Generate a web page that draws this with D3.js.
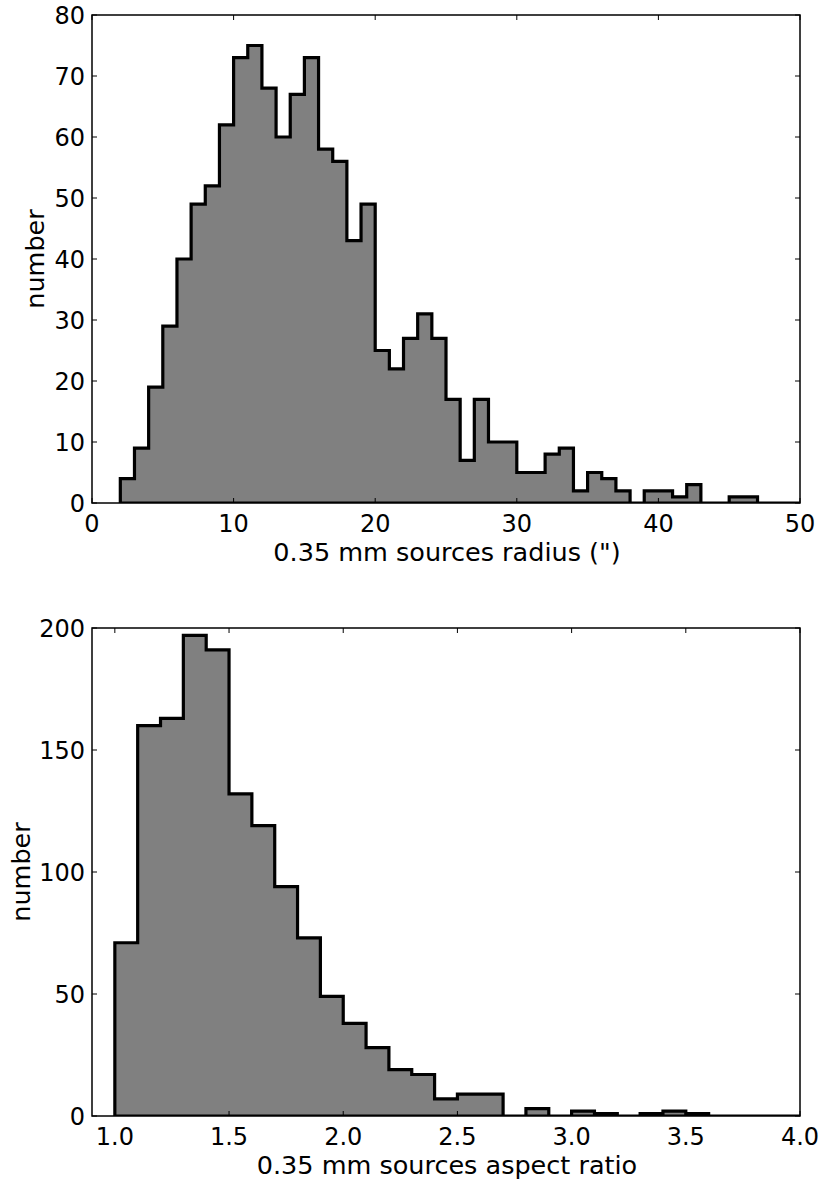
<!DOCTYPE html>
<html>
<head>
<meta charset="utf-8">
<script src="https://cdn.jsdelivr.net/npm/d3@7"></script>
<style>
  body { margin: 0; background: #fff; }
  text { font-family: "DejaVu Sans", sans-serif; fill: #000; }
</style>
</head>
<body>
<div id="chart"></div>
<script>
// histogram 1: source radius, bins of 1" starting at 2"
const radiusStart = 2, radiusWidth = 1;
const radiusCounts = [4, 9, 19, 29, 40, 49, 52, 62, 73, 75, 68, 60, 67, 73, 58, 56, 43, 49,
    25, 22, 27, 31, 27, 17, 7, 17, 10, 10, 5, 5, 8, 9, 2, 5, 4, 2, 0, 2, 2, 1, 3, 0, 0, 1, 1, 0, 0, 0];
const radiusXTicks = [0, 10, 20, 30, 40, 50];
const radiusYTicks = [0, 10, 20, 30, 40, 50, 60, 70, 80];

// histogram 2: aspect ratio, bins of 0.1 starting at 1.0
const ratioStart = 1.0, ratioWidth = 0.1;
const ratioCounts = [71, 160, 163, 197, 191, 132, 119, 94, 73, 49, 38, 28, 19, 17, 7, 9, 9, 0, 3, 0,
    2, 1, 0, 1, 2, 1, 0, 0, 0, 0];
const ratioXTicks = [1.0, 1.5, 2.0, 2.5, 3.0, 3.5, 4.0];
const ratioYTicks = [0, 50, 100, 150, 200];

const W = 823, H = 1181;
const svg = d3.select("#chart")
    .append("svg")
    .attr("width", W)
    .attr("height", H);

function drawHist(opts) {
    const x = d3.scaleLinear().domain(opts.xDomain).range([92, 800]);
    const y = d3.scaleLinear().domain(opts.yDomain).range([opts.bottom, opts.top]);
    const g = svg.append("g");

    g.append("defs").append("clipPath").attr("id", opts.id)
        .append("rect")
        .attr("x", 92).attr("y", opts.top)
        .attr("width", 708).attr("height", opts.bottom - opts.top);

    // step outline points
    const pts = [[opts.start, 0]];
    opts.counts.forEach(function (c, i) {
        const e0 = opts.start + i * opts.width, e1 = opts.start + (i + 1) * opts.width;
        pts.push([e0, c]);
        pts.push([e1, c]);
    });
    pts.push([opts.start + opts.counts.length * opts.width, 0]);

    const line = d3.line().x(d => x(d[0])).y(d => y(d[1]));

    g.append("path")
        .attr("clip-path", `url(#${opts.id})`)
        .attr("d", line(pts) + "Z")
        .attr("fill", "#808080")
        .attr("stroke", "#000")
        .attr("stroke-width", 3.2)
        .attr("stroke-linejoin", "miter");

    // ticks pointing inward on all four sides
    const tl = 5;
    opts.xTicks.forEach(function (t) {
        g.append("line").attr("x1", x(t)).attr("x2", x(t))
            .attr("y1", opts.bottom).attr("y2", opts.bottom - tl)
            .attr("stroke", "#000").attr("stroke-width", 1);
        g.append("line").attr("x1", x(t)).attr("x2", x(t))
            .attr("y1", opts.top).attr("y2", opts.top + tl)
            .attr("stroke", "#000").attr("stroke-width", 1);
        g.append("text")
            .attr("x", x(t)).attr("y", opts.bottom + 29)
            .attr("text-anchor", "middle")
            .style("font-size", "24px")
            .text(opts.xFmt(t));
    });
    opts.yTicks.forEach(function (t) {
        g.append("line").attr("x1", 92).attr("x2", 92 + tl)
            .attr("y1", y(t)).attr("y2", y(t))
            .attr("stroke", "#000").attr("stroke-width", 1);
        g.append("line").attr("x1", 800).attr("x2", 800 - tl)
            .attr("y1", y(t)).attr("y2", y(t))
            .attr("stroke", "#000").attr("stroke-width", 1);
        g.append("text")
            .attr("x", 85).attr("y", y(t))
            .attr("dy", "0.36em")
            .attr("text-anchor", "end")
            .style("font-size", "24px")
            .text(t);
    });

    // frame
    g.append("rect")
        .attr("x", 92).attr("y", opts.top)
        .attr("width", 708).attr("height", opts.bottom - opts.top)
        .attr("fill", "none").attr("stroke", "#000").attr("stroke-width", 1.5);

    g.append("text")
        .attr("x", 447).attr("y", opts.bottom + 58)
        .attr("text-anchor", "middle")
        .style("font-size", "25.5px")
        .text(opts.xLabel);

    g.append("text")
        .attr("transform", `translate(${opts.yLabelX}, ${(opts.top + opts.bottom) / 2}) rotate(-90)`)
        .attr("text-anchor", "middle")
        .style("font-size", "25.5px")
        .text("number");
}

drawHist({
    id: "clipA", top: 15, bottom: 503, yLabelX: 44,
    xDomain: [0, 50], yDomain: [0, 80],
    start: radiusStart, width: radiusWidth, counts: radiusCounts,
    xTicks: radiusXTicks, yTicks: radiusYTicks,
    xFmt: d3.format("d"),
    xLabel: "0.35 mm sources radius (\")"
});

drawHist({
    id: "clipB", top: 628, bottom: 1116, yLabelX: 30,
    xDomain: [0.9, 4.0], yDomain: [0, 200],
    start: ratioStart, width: ratioWidth, counts: ratioCounts,
    xTicks: ratioXTicks, yTicks: ratioYTicks,
    xFmt: d3.format(".1f"),
    xLabel: "0.35 mm sources aspect ratio"
});
</script>
</body>
</html>
